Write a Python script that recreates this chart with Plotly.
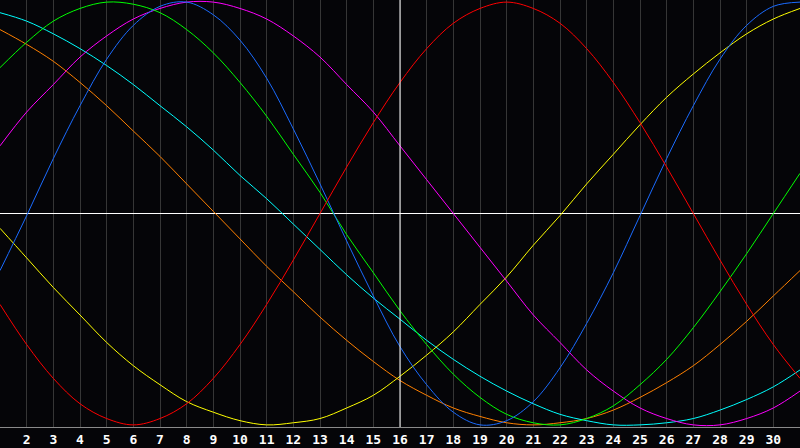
import plotly.graph_objects as go

days = list(range(1, 32))
tick_days = list(range(2, 31))

# values, -100 .. 100
red = [-43, -62, -78, -90, -97, -100, -97, -90, -78, -62, -43, -22, 0, 22, 43, 62,
       78, 90, 97, 100, 97, 90, 78, 62, 43, 22, 0, -22, -43, -62, -78]
green = [69, 81, 91, 97, 100, 99, 95, 87, 76, 62, 46, 28, 10, -10, -28, -46,
         -62, -76, -87, -95, -99, -100, -97, -91, -81, -69, -54, -37, -19, 0, 19]
blue = [-27, -1, 26, 51, 73, 89, 98, 100, 94, 82, 64, 40, 14, -13, -39, -63,
        -81, -94, -100, -98, -89, -73, -52, -28, -1, 26, 51, 73, 89, 98, 100]
magenta = [32, 48, 61, 74, 84, 92, 97, 100, 100, 97, 92, 84, 74, 61, 48, 32,
           16, 0, -16, -32, -48, -61, -74, -84, -92, -97, -100, -100, -97, -92, -84]
cyan = [95, 91, 85, 78, 70, 61, 51, 41, 30, 18, 7, -5, -17, -29, -40, -50,
        -60, -69, -77, -84, -90, -95, -98, -100, -100, -99, -97, -93, -88, -82, -74]
orange = [87, 80, 72, 62, 51, 39, 27, 14, 1, -12, -25, -37, -49, -60, -70, -79,
          -86, -92, -96, -99, -100, -99, -97, -93, -87, -80, -72, -62, -51, -39, -27]
yellow = [-7, -21, -35, -48, -61, -72, -81, -89, -94, -98, -100, -99, -97, -92, -86, -77,
          -67, -56, -43, -30, -15, -1, 14, 28, 42, 55, 66, 76, 85, 92, 97]

series = [
    (orange, "#ff8000"),
    (cyan, "#00ffff"),
    (yellow, "#ffff00"),
    (magenta, "#ff00ff"),
    (green, "#00ff00"),
    (blue, "#1a6bff"),
    (red, "#ff0000"),
]

fig = go.Figure()
for vals, col in series:
    fig.add_trace(go.Scatter(x=days, y=vals, mode="lines",
                             line=dict(color=col, width=1, shape="spline", smoothing=1),
                             hoverinfo="skip"))

# today marker
fig.add_vline(x=16, line_color="white", line_width=1)

fig.update_layout(
    width=800, height=448,
    margin=dict(l=0, r=0, t=0, b=21),
    paper_bgcolor="#050508",
    plot_bgcolor="#050508",
    showlegend=False,
    xaxis=dict(
        range=[1, 31], tickvals=tick_days, ticktext=[str(d) for d in tick_days],
        showgrid=True, gridcolor="#363636", gridwidth=1,
        showline=True, linecolor="#8a8a8a", linewidth=1, mirror=True,
        zeroline=False, ticks="",
        tickfont=dict(family="DejaVu Sans Mono", size=13, color="white", weight="bold"),
    ),
    yaxis=dict(
        range=[-101, 101], showticklabels=False, showgrid=False,
        zeroline=True, zerolinecolor="white", zerolinewidth=1,
        showline=True, linecolor="#8a8a8a", linewidth=1,
    ),
)

fig.write_html("out.html", config={"displayModeBar": False},
               post_script="document.body.style.margin='0';document.body.style.overflow='hidden';")
